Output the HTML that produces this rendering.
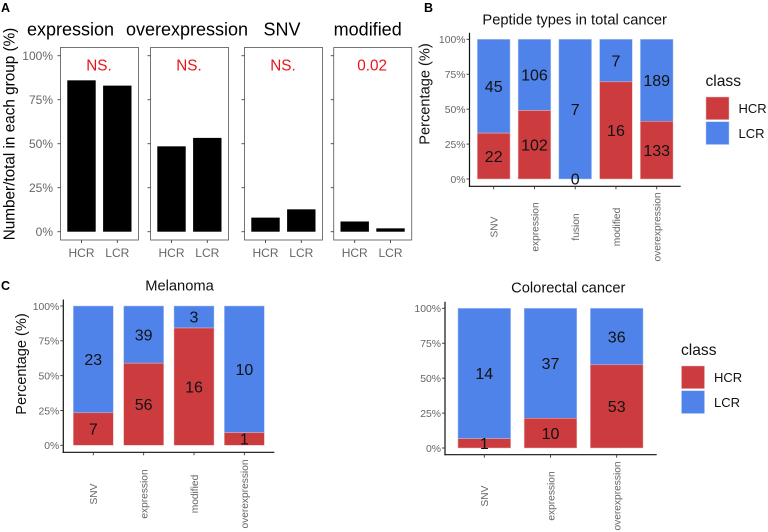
<!DOCTYPE html>
<html>
<head>
<meta charset="utf-8">
<style>
html,body{margin:0;padding:0;background:#fff;}
svg{display:block;font-family:"Liberation Sans",sans-serif;}
</style>
</head>
<body>
<svg id="fig" xmlns="http://www.w3.org/2000/svg" width="768" height="532" viewBox="0 0 768 532"></svg>
<script>
// Panel A data
const aFacets = ['expression', 'overexpression', 'SNV', 'modified'];
const aGroups = ['HCR', 'LCR'];
const aExpression = [86, 83];
const aOverexpression = [48.5, 53.3];
const aSNV = [8, 12.7];
const aModified = [5.8, 1.9];
const aPvalues = ['NS.', 'NS.', 'NS.', '0.02'];
const percentTicks = [0, 25, 50, 75, 100];

// Panel B data
const bCategories = ['SNV', 'expression', 'fusion', 'modified', 'overexpression'];
const bHCR = [22, 102, 0, 16, 133];
const bLCR = [45, 106, 7, 7, 189];

// Melanoma data
const mCategories = ['SNV', 'expression', 'modified', 'overexpression'];
const mHCR = [7, 56, 16, 1];
const mLCR = [23, 39, 3, 10];

// Colorectal data
const cCategories = ['SNV', 'expression', 'overexpression'];
const cHCR = [1, 10, 53];
const cLCR = [14, 37, 36];

const svg = document.getElementById('fig');
const NS = 'http://www.w3.org/2000/svg';
const RED = '#cc3c3f';
const BLUE = '#4f83e9';
const EDGE_R = '#eeb8b8';
const EDGE_B = '#b5ccf5';

function mk(tag, attrs, parent) {
  const e = document.createElementNS(NS, tag);
  for (const k in attrs) e.setAttribute(k, attrs[k]);
  (parent || svg).appendChild(e);
  return e;
}
function rect(x, y, w, h, fill, stroke, sw) {
  const e = mk('rect', {x: x, y: y, width: w, height: h, fill: fill, stroke: stroke || 'none', 'stroke-width': sw || 0});
  return e;
}
function line(x1, y1, x2, y2, color, w) {
  return mk('line', {x1: x1, y1: y1, x2: x2, y2: y2, stroke: color, 'stroke-width': w});
}
function text(str, x, y, size, color, anchor, rot) {
  const attrs = {x: x, y: y, 'font-size': size, fill: color, 'text-anchor': anchor || 'middle'};
  if (rot !== undefined) attrs.transform = 'rotate(' + rot + ' ' + x + ' ' + y + ')';
  const e = mk('text', attrs);
  e.textContent = str;
  return e;
}

// Panel labels
const tagA = text('A', 1, 12, 12.5, '#000', 'start');
tagA.setAttribute('font-weight', 'bold');


const tagB = text('B', 424, 12, 12.5, '#000', 'start');
tagB.setAttribute('font-weight', 'bold');


const tagC = text('C', 1, 290, 12.5, '#000', 'start');
tagC.setAttribute('font-weight', 'bold');



// ---------- Panel A ----------
const aSeries = [aExpression, aOverexpression, aSNV, aModified];
const aLeft = [60.5, 150.5, 244.5, 333.7];
const aTitleX = [70.5, 187, 282, 367.7];
const aPanelW = 78;
const aTop = 47.5;
const aBottom = 240;
function aY(v) { return 231.7 - v / 100 * 176; }

const aYTitle = text('Number/total in each group (%)', 14.5, 134, 15.3, '#000', 'middle', -90);



aFacets.forEach(function (name, f) {
  const left = aLeft[f];
  const title = text(name, aTitleX[f], 35.5, 18, '#000');
  
  

  const frame = rect(left, aTop, aPanelW, aBottom - aTop, '#fff', '#666', 0.9);
  
  

  percentTicks.forEach(function (t) {
    const tick = line(left - 3, aY(t), left, aY(t), '#444', 0.9);
    
    
    if (f === 0) {
      const lab = text(t + '%', left - 7.5, aY(t) + 4.2, 12, '#666', 'end');
      
      
    }
  });

  aGroups.forEach(function (g, i) {
    const cx = left + 21 + i * 35.8;
    const v = aSeries[f][i];
    const bar = rect(cx - 14.2, aY(v), 28.4, aY(0) - aY(v), '#000');
    
    
    const tick = line(cx, aBottom, cx, aBottom + 3, '#444', 0.9);
    
    
    const lab = text(g, cx, 257, 12, '#666');
    
    
  });

  const p = text(aPvalues[f], left + 38.5, 70.5, 15.3, '#e8141c');
  
  
});

// ---------- Stacked charts ----------
function stacked(cfg) {
  const y = function (v) { return cfg.y0 - v / 100 * (cfg.y0 - cfg.y100); };
  const x = function (i) { return cfg.x0 + i * cfg.step; };

  const title = text(cfg.title, cfg.titleX, cfg.titleY, 14.7, '#111');
  
  

  cfg.categories.forEach(function (cat, i) {
    const total = cfg.hcr[i] + cfg.lcr[i];
    const pct = cfg.hcr[i] / total * 100;
    const w = cfg.barW;
    const blue = rect(x(i) - w / 2, y(100), w, y(pct) - y(100), BLUE, EDGE_B, 0.5);
    
    
    const red = rect(x(i) - w / 2, y(pct), w, y(0) - y(pct), RED, cfg.hcr[i] ? EDGE_R : 'none', cfg.hcr[i] ? 0.5 : 0);
    
    
  });

  const yAxis = line(cfg.left, cfg.y100 - 6.5, cfg.left, cfg.bottom + 0.6, '#111', 1.2);
  
  
  const xAxis = line(cfg.left - 0.6, cfg.bottom, cfg.right, cfg.bottom, '#111', 1.2);
  
  

  percentTicks.forEach(function (t) {
    const tick = line(cfg.left - 3, y(t), cfg.left, y(t), '#333', 0.9);
    
    
    const lab = text(t + '%', cfg.left - 4, y(t) + 3.8, 10.4, '#666', 'end');
    
    
  });

  cfg.categories.forEach(function (cat, i) {
    const total = cfg.hcr[i] + cfg.lcr[i];
    const pct = cfg.hcr[i] / total * 100;
    const tick = line(x(i), cfg.bottom, x(i), cfg.bottom + 3, '#333', 0.9);
    
    
    const lab = text(cat, x(i) + 3.8, cfg.catY, 10.2, '#666', 'middle', -90);
    
    
    const hv = text(cfg.hcr[i], x(i), y(pct / 2) + 5.7, 16, '#111');
    
    
    const lv = text(cfg.lcr[i], x(i), y(pct + (100 - pct) / 2) + 5.7, 16, '#111');
    
    
  });

  if (cfg.yTitleX) {
    const yt = text('Percentage (%)', cfg.yTitleX, cfg.yTitleY, 14.6, '#111', 'middle', -90);
    
    
  }

  if (cfg.legX) {
    const lt = text('class', cfg.legX, cfg.legY, 15.6, '#111', 'start');
    
    
    const k1 = rect(cfg.legX + 0.5, cfg.legY + 11, 23, 22.6, RED, EDGE_R, 0.5);
    
    
    const k2 = rect(cfg.legX + 0.5, cfg.legY + 35.7, 23, 22.8, BLUE, EDGE_B, 0.5);
    
    
    const l1 = text('HCR', cfg.legX + 33, cfg.legY + 27, 13, '#111', 'start');
    
    
    const l2 = text('LCR', cfg.legX + 33, cfg.legY + 52, 13, '#111', 'start');
    
    
  }
}

stacked({id: 'total-cancer', title: 'Peptide types in total cancer', titleX: 574.7, titleY: 24.5,
  categories: bCategories, hcr: bHCR, lcr: bLCR,
  left: 469.5, right: 680.7, bottom: 186.3, y0: 179, y100: 39.3,
  x0: 493.7, step: 40.75, barW: 32.7, catY: 227, yTitleX: 429.5, yTitleY: 94,
  legX: 705.5, legY: 86});

stacked({id: 'melanoma', title: 'Melanoma', titleX: 179.5, titleY: 290.5,
  categories: mCategories, hcr: mHCR, lcr: mLCR,
  left: 63.3, right: 274.3, bottom: 452.3, y0: 445.3, y100: 306,
  x0: 93.3, step: 50.35, barW: 40, catY: 494, yTitleX: 26, yTitleY: 364});

stacked({id: 'colorectal', title: 'Colorectal cancer', titleX: 568.3, titleY: 292.7,
  categories: cCategories, hcr: cHCR, lcr: cLCR,
  left: 445, right: 656.7, bottom: 454.7, y0: 448, y100: 308.3,
  x0: 484.3, step: 66.2, barW: 52.7, catY: 496,
  legX: 681, legY: 355});
</script>
</body>
</html>
